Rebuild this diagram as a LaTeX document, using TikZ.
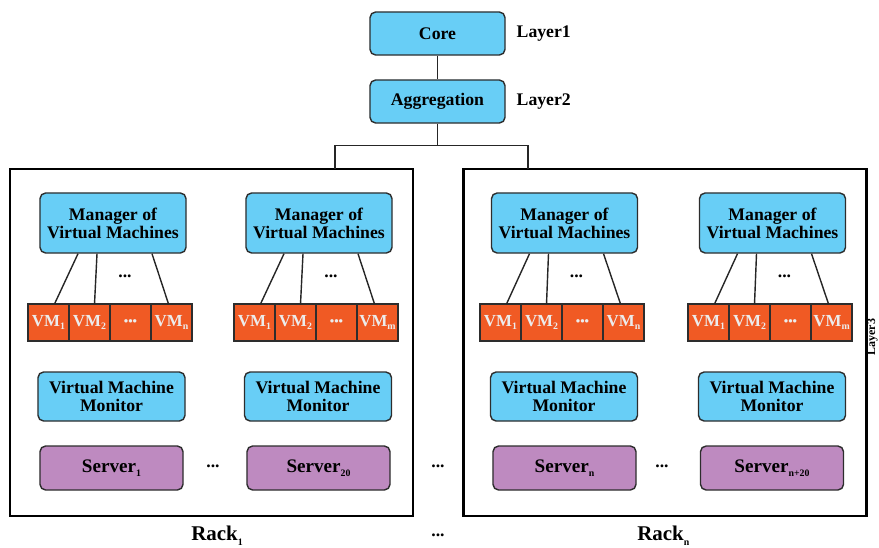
\documentclass[tikz,border=0pt]{standalone}
\usepackage{fontspec}
\setmainfont{Liberation Serif}
\usetikzlibrary{positioning,calc}
\newcommand{\lowidx}[1]{\raisebox{-0.5ex}{\fontsize{7}{7}\selectfont #1}}
\definecolor{boxblue}{RGB}{104,206,246}
\definecolor{vmorange}{RGB}{240,90,36}
\definecolor{srvpurple}{RGB}{190,138,192}
\definecolor{edgegray}{RGB}{45,45,45}
\begin{document}
\begin{tikzpicture}[x=0.025cm, y=-0.025cm, node distance=0.15cm,
  blue node/.style={draw=edgegray, line width=1pt, rounded corners=4pt, fill=boxblue, align=center, inner sep=0pt, font=\fontsize{12.6}{12.8}\selectfont\bfseries},
  top node/.style={blue node, minimum width=3.375cm, minimum height=1.075cm},
  mgr node/.style={blue node, minimum width=3.65cm, minimum height=1.5cm},
  mon node/.style={blue node, minimum width=3.675cm, minimum height=1.225cm},
  srv node/.style={draw=edgegray, line width=1pt, rounded corners=4pt, fill=srvpurple, minimum width=3.575cm, minimum height=1.1cm, inner sep=0pt, font=\fontsize{13.6}{14}\selectfont\bfseries},
  vm node/.style={draw=edgegray, line width=1pt, fill=vmorange, minimum width=1.025cm, minimum height=0.925cm, inner sep=0pt, outer sep=0pt, text=white!85!gray, font=\fontsize{12}{12}\selectfont\bfseries},
  rack node/.style={draw=black, line width=1.6pt, minimum width=10.075cm, minimum height=8.675cm, inner sep=0pt},
  plain text/.style={font=\fontsize{12.6}{13}\selectfont\bfseries},
  link/.style={draw=black!85, line width=1pt}]
  \useasboundingbox (0,0) rectangle (879,547);

  % top layers
  \node[top node] (core) at (437.5,33.5) {Core};
  \node[top node] (agg) at (437.5,101.5) {Aggregation};
  \node[plain text, right=of core] (l1) {Layer1};
  \node[plain text, right=of agg] (l2) {Layer2};
  \node[font=\fontsize{8.5}{9}\selectfont\bfseries, rotate=90, inner sep=0pt] (l3) at (872.5,337) {Layer3};

  % racks
  \node[rack node] (rack1) at (211.5,342.5) {};
  \node[rack node] (rack2) at (665,342.5) {};
  \coordinate (t1) at (335,169);
  \coordinate (t2) at (528,169);
  \node[font=\fontsize{14.9}{15}\selectfont\bfseries, anchor=west, inner sep=0pt] (r1) at (191,536) {Rack\lowidx{1}};
  \node[font=\fontsize{14.9}{15}\selectfont\bfseries, anchor=west, inner sep=0pt] (r2) at (637,536) {Rack\lowidx{n}};
  \node[plain text] (d1) at (438,466) {...};
  \node[plain text] (d2) at (438,535) {...};

  % managers
  \node[mgr node] (m1) at (113,223) {Manager of\\Virtual Machines};
  \node[mgr node] (m2) at (319,223) {Manager of\\Virtual Machines};
  \node[mgr node] (m3) at (564.5,223) {Manager of\\Virtual Machines};
  \node[mgr node] (m4) at (772.5,223) {Manager of\\Virtual Machines};

  % virtual machines
  \node[vm node] (v11) at (48.5,322.5) {VM\lowidx{1}};
  \node[vm node, right=0pt of v11] (v12) {VM\lowidx{2}};
  \node[vm node, right=0pt of v12] (v13) {\fontsize{9}{9}\selectfont •••};
  \node[vm node, right=0pt of v13] (v14) {VM\lowidx{n}};
  \node[vm node] (v21) at (254.5,322.5) {VM\lowidx{1}};
  \node[vm node, right=0pt of v21] (v22) {VM\lowidx{2}};
  \node[vm node, right=0pt of v22] (v23) {\fontsize{9}{9}\selectfont •••};
  \node[vm node, right=0pt of v23] (v24) {VM\lowidx{m}};
  \node[vm node] (v31) at (500.5,322.5) {VM\lowidx{1}};
  \node[vm node, right=0pt of v31] (v32) {VM\lowidx{2}};
  \node[vm node, right=0pt of v32] (v33) {\fontsize{9}{9}\selectfont •••};
  \node[vm node, right=0pt of v33] (v34) {VM\lowidx{n}};
  \node[vm node] (v41) at (708.5,322.5) {VM\lowidx{1}};
  \node[vm node, right=0pt of v41] (v42) {VM\lowidx{2}};
  \node[vm node, right=0pt of v42] (v43) {\fontsize{9}{9}\selectfont •••};
  \node[vm node, right=0pt of v43] (v44) {VM\lowidx{m}};

  \node[plain text] (e1) at (125,276) {...};
  \node[plain text] (e2) at (331,276) {...};
  \node[plain text] (e3) at (576.5,276) {...};
  \node[plain text] (e4) at (784.5,276) {...};

  % monitors and servers
  \node[mon node] (mon1) at (111.5,396.5) {Virtual Machine\\Monitor};
  \node[mon node] (mon2) at (318,396.5) {Virtual Machine\\Monitor};
  \node[mon node] (mon3) at (564,396.5) {Virtual Machine\\Monitor};
  \node[mon node] (mon4) at (772,396.5) {Virtual Machine\\Monitor};
  \node[srv node] (s1) at (111.5,468) {Server\lowidx{1}};
  \node[srv node] (s2) at (318.5,468) {Server\lowidx{20}};
  \node[srv node] (s3) at (564.5,468) {Server\lowidx{n}};
  \node[srv node] (s4) at (772,468) {Server\lowidx{n+20}};
  \node[plain text] (f1) at (213,466) {...};
  \node[plain text] (f2) at (662,466) {...};

  % connectors
  \draw[link] (core) -- (agg);
  \draw[link] (agg.south) -- ++(0,22) -| (t1);
  \draw[link] (agg.south) -- ++(0,22) -| (t2);
  \path[link]
    ($(m1.south)+(-35,0)$) edge ($(v11.north)+(6,0)$)
    ($(m1.south)+(-16,0)$) edge ($(v12.north)+(5,0)$)
    ($(m1.south)+(39,0)$) edge ($(v14.north)+(-3,0)$)
    ($(m2.south)+(-35,0)$) edge ($(v21.north)+(6,0)$)
    ($(m2.south)+(-16,0)$) edge ($(v22.north)+(5,0)$)
    ($(m2.south)+(39,0)$) edge ($(v24.north)+(-3,0)$)
    ($(m3.south)+(-35,0)$) edge ($(v31.north)+(6,0)$)
    ($(m3.south)+(-16,0)$) edge ($(v32.north)+(5,0)$)
    ($(m3.south)+(39,0)$) edge ($(v34.north)+(-3,0)$)
    ($(m4.south)+(-35,0)$) edge ($(v41.north)+(6,0)$)
    ($(m4.south)+(-16,0)$) edge ($(v42.north)+(5,0)$)
    ($(m4.south)+(39,0)$) edge ($(v44.north)+(-3,0)$);
\end{tikzpicture}
\end{document}
